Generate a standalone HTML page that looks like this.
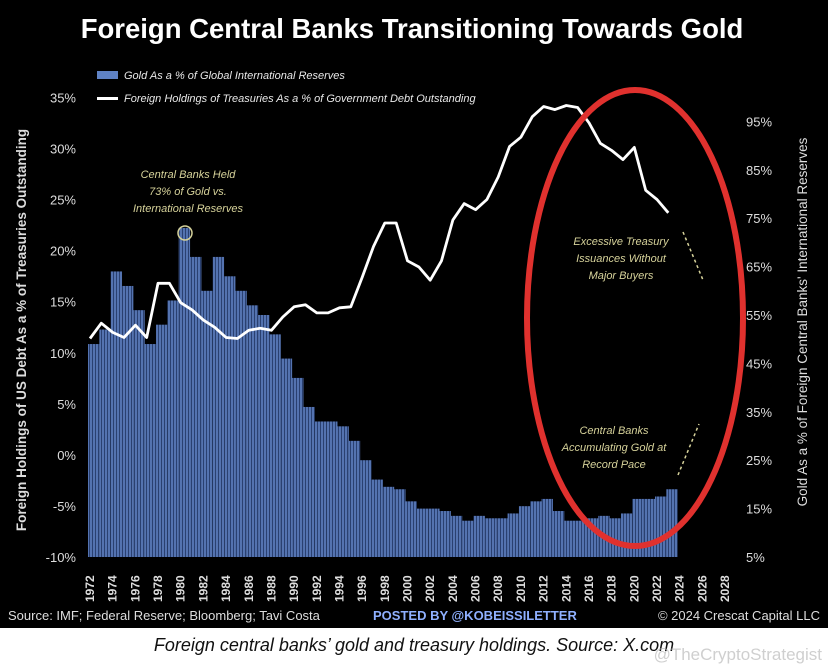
<!DOCTYPE html>
<html><head><meta charset="utf-8"><style>
html,body{margin:0;padding:0;background:#fff;}
svg{display:block;font-family:"Liberation Sans",sans-serif;}
</style></head><body>
<svg id="chart" width="828" height="670" viewBox="0 0 828 670" xmlns="http://www.w3.org/2000/svg">
<defs>
<pattern id="stripes" width="3" height="10" patternUnits="userSpaceOnUse">
<rect width="3" height="10" fill="#5473b0"/><rect x="2" width="1" height="10" fill="#2a4070"/>
</pattern>
</defs>
<rect x="0" y="0" width="828" height="628" fill="#000"/>
<rect x="0" y="628" width="828" height="42" fill="#fff"/>
<text x="412" y="38" text-anchor="middle" fill="#fff" font-size="27.5" font-weight="bold">Foreign Central Banks Transitioning Towards Gold</text>
<g>
<rect x="97" y="71" width="21" height="8" fill="#5f82c4"/>
<text x="124" y="79" fill="#e8e8e8" font-size="11" font-style="italic">Gold As a % of Global International Reserves</text>
<rect x="97" y="97" width="21" height="3" fill="#fff"/>
<text x="124" y="102" fill="#e8e8e8" font-size="11" font-style="italic">Foreign Holdings of Treasuries As a % of Government Debt Outstanding</text>
</g>
<g id="left-axis"></g>
<g id="right-axis"></g>
<g id="x-axis"></g>
<g id="bars"></g>
<path id="tline" fill="none" stroke="#fff" stroke-width="2.8" stroke-linejoin="round"/>
<text transform="translate(26,330) rotate(-90)" text-anchor="middle" fill="#ddd" font-size="13.5" font-weight="bold">Foreign Holdings of US Debt As a % of  Treasuries Outstanding</text>
<text transform="translate(807,322) rotate(-90)" text-anchor="middle" fill="#ddd" font-size="13.5">Gold As a % of Foreign Central Banks' International Reserves</text>
<g fill="#d6d29a" font-size="11" font-style="italic" text-anchor="middle">
<text x="188" y="178">Central Banks Held<tspan x="188" dy="17">73% of Gold vs.</tspan><tspan x="188" dy="17">International Reserves</tspan></text>
<circle cx="185" cy="233" r="7" fill="none" stroke="#d6d29a" stroke-width="1.5"/>
<text x="621" y="245">Excessive Treasury<tspan x="621" dy="17">Issuances Without</tspan><tspan x="621" dy="17">Major Buyers</tspan></text>
<text x="614" y="434">Central Banks<tspan x="614" dy="17">Accumulating Gold at</tspan><tspan x="614" dy="17">Record Pace</tspan></text>
<line x1="683" y1="232" x2="703" y2="280" stroke="#d6d29a" stroke-width="1.5" stroke-dasharray="3,3"/>
<line x1="678" y1="475" x2="699" y2="424" stroke="#d6d29a" stroke-width="1.5" stroke-dasharray="3,3"/>
</g>
<ellipse cx="635" cy="318" rx="108" ry="228" fill="none" stroke="#e0312e" stroke-width="6"/>
<text x="8" y="620" fill="#ddd" font-size="13">Source: IMF; Federal Reserve; Bloomberg; Tavi Costa</text>
<text x="373" y="620" fill="#8fb0ff" font-size="13" font-weight="bold">POSTED BY @KOBEISSILETTER</text>
<text x="820" y="620" text-anchor="end" fill="#ddd" font-size="13">© 2024 Crescat Capital LLC</text>
<text x="414" y="651" text-anchor="middle" fill="#111" font-size="18" font-style="italic">Foreign central banks’ gold and treasury holdings. Source: X.com</text>
<text x="822" y="660" text-anchor="end" fill="#bbb" font-size="17" opacity="0.7">@TheCryptoStrategist</text>
</svg>
<script>
const years=[1972,1973,1974,1975,1976,1977,1978,1979,1980,1981,1982,1983,1984,1985,1986,1987,1988,1989,1990,1991,1992,1993,1994,1995,1996,1997,1998,1999,2000,2001,2002,2003,2004,2005,2006,2007,2008,2009,2010,2011,2012,2013,2014,2015,2016,2017,2018,2019,2020,2021,2022,2023];
const goldPct=[49,52,64,61,56,49,53,58,73,67,60,67,63,60,57,55,51,46,42,36,33,33,32,29,25,21,19.5,19,16.5,15,15,14.5,13.5,12.5,13.5,13,13,14,15.5,16.5,17,14.5,12.5,12.5,13,13.5,13,14,17,17,17.5,19];
const treasuryPct=[11.4,12.9,12,11.5,12.7,11.5,16.8,16.8,14.9,14.2,13.2,12.5,11.5,11.4,12.2,12.4,12.2,13.5,14.5,14.7,13.9,13.9,14.4,14.5,17.4,20.4,22.7,22.7,19,18.4,17.1,19,23,24.6,24,25,27.2,30.2,31.1,33.1,34.1,33.8,34.2,34,32.5,30.5,29.8,28.9,30.1,25.9,25,23.7];
const leftTicks=[35,30,25,20,15,10,5,0,-5,-10];
const rightTicks=[95,85,75,65,55,45,35,25,15,5];
const xTicks=[1972,1974,1976,1978,1980,1982,1984,1986,1988,1990,1992,1994,1996,1998,2000,2002,2004,2006,2008,2010,2012,2014,2016,2018,2020,2022,2024,2026,2028];

const NS='http://www.w3.org/2000/svg';
const xs=y=>90+(y-1972)*11.34;
const yL=v=>455-v*10.22;
const yR=v=>557-(v-5)*4.84;
function mk(tag,attrs,parent,txt){const e=document.createElementNS(NS,tag);for(const k in attrs)e.setAttribute(k,attrs[k]);if(txt!==undefined)e.textContent=txt;parent.appendChild(e);return e;}

const la=document.getElementById('left-axis');
leftTicks.forEach(t=>{const e=mk('text',{x:76,y:yL(t)+5,'text-anchor':'end',fill:'#ddd','font-size':13},la,t+'%');

});
const ra=document.getElementById('right-axis');
rightTicks.forEach(t=>{const e=mk('text',{x:746,y:yR(t)+5,fill:'#ddd','font-size':13},ra,t+'%');

});
const xa=document.getElementById('x-axis');
xTicks.forEach(t=>{const e=mk('text',{transform:`translate(${xs(t)+4},602) rotate(-90)`,fill:'#ddd','font-size':12,'font-weight':'bold'},xa,String(t));

});

const bg=document.getElementById('bars');
years.forEach((yr,i)=>{const top=yR(goldPct[i]);const b=mk('rect',{x:xs(yr)-2,y:top,width:11.34,height:557-top,fill:'url(#stripes)'},bg);

});

document.getElementById('tline').setAttribute('d',years.map((yr,i)=>(i?'L':'M')+xs(yr).toFixed(1)+','+yL(treasuryPct[i]).toFixed(1)).join(' '));
</script>
</body></html>
